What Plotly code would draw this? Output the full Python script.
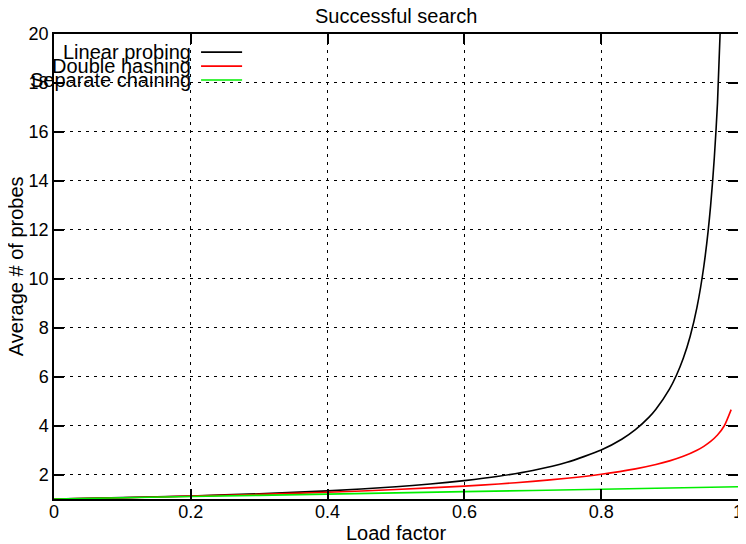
import plotly.graph_objects as go

load_lp = [0, 0.1, 0.2, 0.3, 0.4, 0.5, 0.55, 0.6, 0.65, 0.7, 0.75, 0.8, 0.83, 0.85, 0.87,
           0.88, 0.9, 0.91, 0.92, 0.93, 0.94, 0.95, 0.96, 0.97, 0.98, 0.99]
linear_probing = [1.0, 1.056, 1.125, 1.214, 1.333, 1.5, 1.611, 1.75, 1.929, 2.167, 2.5, 3.0,
                  3.441, 3.833, 4.346, 4.667, 5.5, 6.056, 6.75, 7.643, 8.833, 10.5, 13.0,
                  17.167, 25.5, 50.5]

load_dh = [0, 0.1, 0.2, 0.3, 0.4, 0.5, 0.6, 0.65, 0.7, 0.75, 0.8, 0.85, 0.88, 0.9, 0.92,
           0.94, 0.95, 0.96, 0.97, 0.98, 0.99]
double_hashing = [1.0, 1.054, 1.116, 1.189, 1.277, 1.386, 1.527, 1.615, 1.720, 1.848, 2.012,
                  2.232, 2.409, 2.558, 2.745, 2.993, 3.153, 3.353, 3.615, 3.992, 4.652]

load_sc = [0, 0.2, 0.4, 0.6, 0.8, 1.0]
separate_chaining = [1.0, 1.1, 1.2, 1.3, 1.4, 1.5]

series_names = ["Linear probing", "Double hashing", "Separate chaining"]
series_colors = ["#000000", "#ff0000", "#00ee00"]

x_ticks = [0, 0.2, 0.4, 0.6, 0.8, 1]
x_tick_labels = ["0", "0.2", "0.4", "0.6", "0.8", "1"]
y_ticks = [2, 4, 6, 8, 10, 12, 14, 16, 18, 20]

FONT = "Liberation Sans, Arial, Helvetica, sans-serif"
TXT = dict(size=20, color="black", family=FONT)

fig = go.Figure()
for xs, ys, name, col in zip([load_lp, load_dh, load_sc],
                             [linear_probing, double_hashing, separate_chaining],
                             series_names, series_colors):
    fig.add_trace(go.Scatter(x=xs, y=ys, mode="lines", name=name,
                             line=dict(color=col, width=1.6, shape="spline", smoothing=0.6),
                             showlegend=False))

axis_common = dict(
    showline=True, linecolor="black", linewidth=1.5, mirror="ticks",
    ticks="inside", ticklen=10, tickwidth=1.5, tickcolor="black",
    showgrid=True, gridcolor="black", gridwidth=1, griddash="3px,5px",
    zeroline=False, tickfont=dict(size=18, color="black", family=FONT),
    automargin=False,
)

fig.update_xaxes(range=[0, 1], tickvals=x_ticks, ticktext=x_tick_labels,
                 ticklabelstandoff=-4, **axis_common)
fig.update_yaxes(range=[1, 20], tickvals=y_ticks, **axis_common)

# Titles as text annotations
fig.add_annotation(x=0.5, y=1.039, xref="paper", yref="paper", text="Successful search",
                   showarrow=False, xanchor="center", yanchor="middle", font=TXT)
fig.add_annotation(x=0.5, y=-0.073, xref="paper", yref="paper", text="Load factor",
                   showarrow=False, xanchor="center", yanchor="middle", font=TXT)
fig.add_annotation(x=-0.056, y=0.5, xref="paper", yref="paper", text="Average # of probes",
                   showarrow=False, xanchor="center", yanchor="middle", textangle=-90, font=TXT)

# Gnuplot-style legend: right-aligned text followed by a line sample
legend_y = [0.961, 0.931, 0.901]
for name, col, ly in zip(series_names, series_colors, legend_y):
    fig.add_annotation(x=0.203, y=ly, xref="paper", yref="paper", text=name,
                       showarrow=False, xanchor="right", yanchor="middle", font=TXT)
    fig.add_shape(type="line", xref="paper", yref="paper", x0=0.215, x1=0.275, y0=ly, y1=ly,
                  line=dict(color=col, width=1.6))

# The page body adds an 8px offset, so the figure is 8px smaller and margins shifted
fig.update_layout(
    width=738, height=536,
    margin=dict(l=46, r=8, t=26, b=45, autoexpand=False),
    paper_bgcolor="white", plot_bgcolor="white",
    font=dict(family=FONT, color="black"),
)

fig.write_html("out.html")
